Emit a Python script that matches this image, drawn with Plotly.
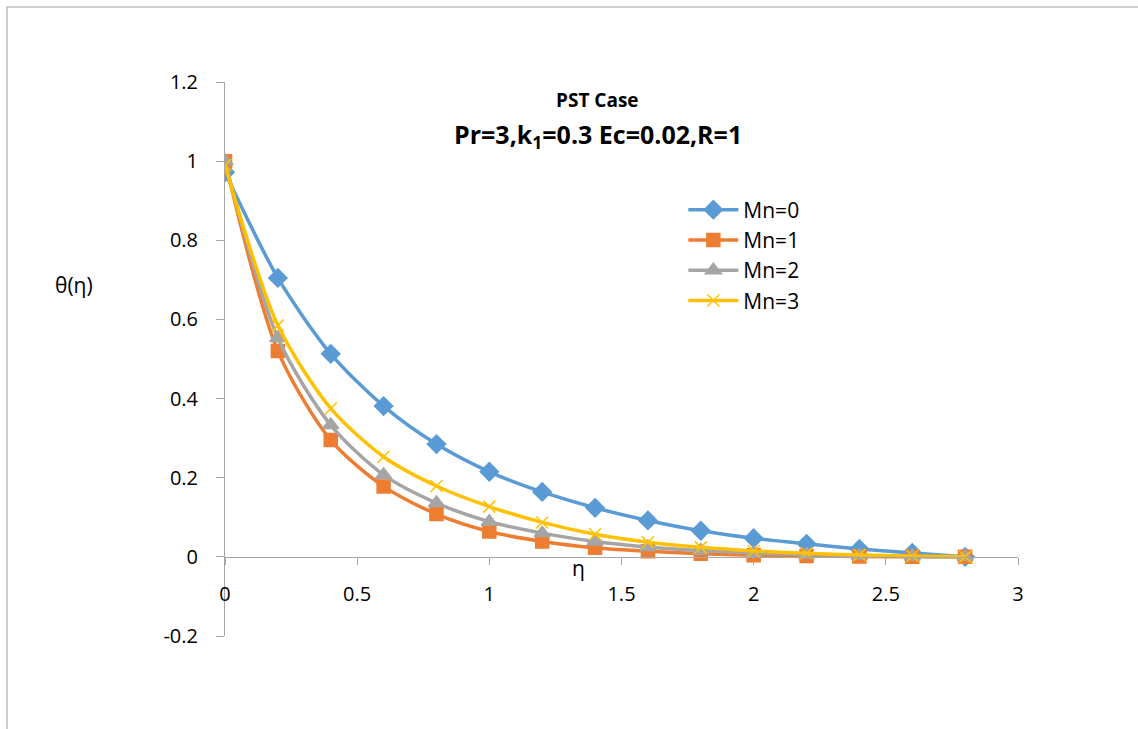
# theta(eta) profiles, PST case
import plotly.graph_objects as go

# Data
eta = [0, 0.2, 0.4, 0.6, 0.8, 1.0, 1.2, 1.4, 1.6, 1.8, 2.0, 2.2, 2.4, 2.6, 2.8]
mn0 = [0.972, 0.705, 0.513, 0.381, 0.285, 0.215, 0.164, 0.124, 0.092, 0.066,
       0.047, 0.033, 0.020, 0.010, 0.0]
mn1 = [1.0, 0.52, 0.295, 0.178, 0.108, 0.064, 0.039, 0.023, 0.014, 0.008,
       0.004, 0.002, 0.001, 0.0, 0.0]
mn2 = [1.0, 0.553, 0.333, 0.207, 0.136, 0.089, 0.060, 0.039, 0.025, 0.016,
       0.010, 0.006, 0.003, 0.001, 0.0]
mn3 = [0.99, 0.585, 0.375, 0.253, 0.179, 0.127, 0.087, 0.057, 0.037, 0.024,
       0.015, 0.009, 0.005, 0.002, 0.0]

names = ["Mn=0", "Mn=1", "Mn=2", "Mn=3"]
colors = ["#5B9BD5", "#ED7D31", "#A5A5A5", "#FFC000"]
symbols = ["diamond", "square", "triangle-up", "x-thin"]
sizes = [14, 13, 14, 12]

fig = go.Figure()
for name, ys, c, s, sz in zip(names, [mn0, mn1, mn2, mn3], colors, symbols, sizes):
    fig.add_trace(go.Scatter(
        x=eta, y=ys, name=name, mode="lines+markers",
        line=dict(color=c, width=3.5, shape="spline", smoothing=0.8),
        marker=dict(symbol=s, size=sz, color=c, line=dict(color=c, width=1.5)),
    ))

font = "Open Sans, Liberation Sans, sans-serif"

# plot area: x 225..1018, y 82..636 (pixels)
fig.update_layout(
    width=1138, height=729,
    paper_bgcolor="white", plot_bgcolor="white",
    margin=dict(l=225, r=120, t=82, b=93),
    font=dict(family=font, size=20, color="black"),
    showlegend=True,
    legend=dict(x=0.578, y=0.806, xanchor="left", yanchor="top",
                bgcolor="rgba(0,0,0,0)", font=dict(size=21, family=font),
                itemwidth=50, tracegroupgap=0),
    xaxis=dict(range=[0, 3], tickvals=[0, 0.5, 1, 1.5, 2, 2.5, 3],
               ticktext=["0", "0.5", "1", "1.5", "2", "2.5", "3"],
               showgrid=False, zeroline=False, showline=True,
               linecolor="#A6A6A6", linewidth=1,
               ticks="outside", ticklen=7, tickcolor="#A6A6A6",
               ticklabelstandoff=12,
               anchor="free", position=0.2 / 1.4,
               tickfont=dict(size=20, family=font)),
    yaxis=dict(range=[-0.2, 1.2], tickvals=[-0.2, 0, 0.2, 0.4, 0.6, 0.8, 1, 1.2],
               ticktext=["-0.2", "0", "0.2", "0.4", "0.6", "0.8", "1", "1.2"],
               showgrid=False, zeroline=False, showline=True,
               linecolor="#A6A6A6", linewidth=1,
               ticks="outside", ticklen=8, tickcolor="#A6A6A6",
               ticklabelstandoff=14,
               tickfont=dict(size=20, family=font)),
)

# outer chart border (only top/left are visible in the reference)
fig.add_shape(type="rect", xref="paper", yref="paper",
              x0=(7 - 225) / 793, x1=1.3, y0=-0.3, y1=(636 - 7) / 554,
              line=dict(color="#BFBFBF", width=1.5), layer="below")

def label(text, px, py, size):
    fig.add_annotation(text=text, xref="paper", yref="paper",
                       x=(px - 225) / 793, y=(636 - py) / 554,
                       xanchor="center", yanchor="middle", showarrow=False,
                       font=dict(size=size, family=font))

label("<b>PST Case</b>", 597, 100, 19)
label("<b>Pr=3,k<sub>1</sub>=0.3 Ec=0.02,R=1</b>", 598, 135, 25)
label("θ(η)", 74, 285, 21)
label("η", 578, 568, 21)

fig.write_html("out.html", config={"displayModeBar": False},
               post_script="document.body.style.margin='0px';")
